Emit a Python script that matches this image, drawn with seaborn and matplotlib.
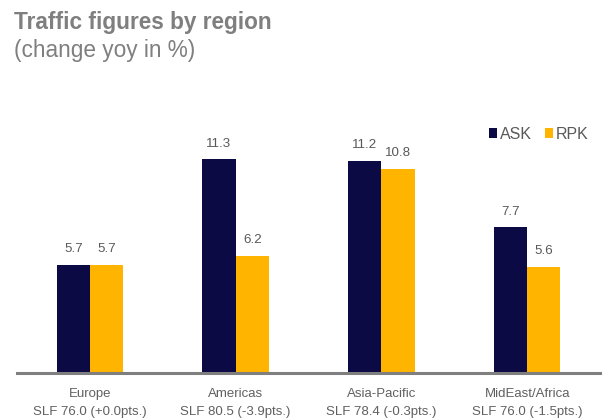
import pandas as pd
import seaborn as sns
import matplotlib.pyplot as plt

sns.set_theme(style="white")
plt.rcParams['font.family'] = ['Liberation Sans', 'DejaVu Sans']

# Data
regions = ['Europe', 'Americas', 'Asia-Pacific', 'MidEast/Africa']
slf = ['SLF 76.0 (+0.0pts.)', 'SLF 80.5 (-3.9pts.)', 'SLF 78.4 (-0.3pts.)', 'SLF 76.0 (-1.5pts.)']
ask = [5.7, 11.3, 11.2, 7.7]
rpk = [5.7, 6.2, 10.8, 5.6]

df = pd.DataFrame({
    'region': regions * 2,
    'value': ask + rpk,
    'metric': ['ASK'] * 4 + ['RPK'] * 4,
})

fig = plt.figure(figsize=(6.06, 4.19), dpi=100)
ax = fig.add_axes([17 / 606, 46 / 419, 583 / 606, 0.632])

sns.barplot(data=df, x='region', y='value', hue='metric', ax=ax,
            palette=['#0B0A45', '#FFB400'], width=0.455, gap=0, saturation=1,
            linewidth=0)

for c in ax.containers:
    ax.bar_label(c, fmt='%.1f', padding=7, fontsize=9.6, color='#595959')

ax.set_xlim(-0.5, 3.5)
ax.set_ylim(0, 14)
ax.set_xlabel('')
ax.set_ylabel('')
ax.set_yticks([])
ax.set_xticks(range(4))
ax.set_xticklabels([f'{r}\n{s}' for r, s in zip(regions, slf)], fontsize=9.5,
                   color='#606060', linespacing=1.7)
ax.tick_params(axis='x', length=0, pad=10.5)
for s in ['top', 'right', 'left']:
    ax.spines[s].set_visible(False)
ax.spines['bottom'].set_color('#7F7F7F')
ax.spines['bottom'].set_linewidth(2.2)

ax.legend(loc='upper right', bbox_to_anchor=(1.005, 0.985), ncol=2, frameon=False,
          handlelength=0.55, handleheight=0.55, handletextpad=0.15, columnspacing=0.8,
          fontsize=11.5, labelcolor='#595959')

fig.text(14 / 606, 1 - 29 / 419, 'Traffic figures by region', fontsize=16.3,
         fontweight='bold', color='#7F7F7F', va='baseline')
fig.text(14 / 606, 1 - 57 / 419, '(change yoy in %)', fontsize=16.3,
         color='#7F7F7F', va='baseline')

fig.savefig('out.png', dpi=100)
